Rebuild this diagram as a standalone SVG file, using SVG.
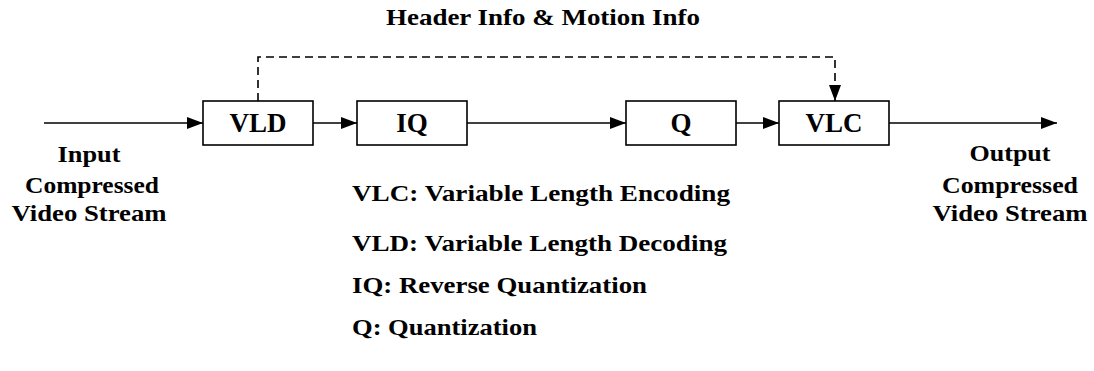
<svg xmlns="http://www.w3.org/2000/svg" width="1094" height="371" viewBox="0 0 1094 371">
<style>
rect{fill:#fff;stroke:#000;stroke-width:1.6}
.ln{fill:none;stroke:#000;stroke-width:1.6}
.dash{fill:none;stroke:#000;stroke-width:1.6;stroke-dasharray:8 5}
</style>
<defs>
<marker id="ah" viewBox="0 0 16 12" refX="16" refY="6" markerWidth="16" markerHeight="12" markerUnits="userSpaceOnUse" orient="auto">
<path d="M0,0 L16,6 L0,12 Z" fill="#000"/>
</marker>
</defs>
<text x="543" y="25" font-family="Liberation Serif" font-weight="bold" font-size="24" text-anchor="middle" textLength="314" lengthAdjust="spacingAndGlyphs">Header Info &amp; Motion Info</text>
<g id="connectors">
<line class="ln" x1="44" y1="123" x2="203" y2="123" marker-end="url(#ah)"/>
<line class="ln" x1="313" y1="123" x2="357" y2="123" marker-end="url(#ah)"/>
<line class="ln" x1="467" y1="123" x2="626" y2="123" marker-end="url(#ah)"/>
<line class="ln" x1="736" y1="123" x2="779" y2="123" marker-end="url(#ah)"/>
<line class="ln" x1="889" y1="123" x2="1057" y2="123" marker-end="url(#ah)"/>
<polyline class="dash" points="258,101 258,57 835,57 835,101" marker-end="url(#ah)"/>
</g>
<g font-family="Liberation Serif" font-weight="bold" font-size="27" text-anchor="middle">
<g id="VLD"><rect x="203" y="101" width="110" height="44"/><text x="258" y="132">VLD</text></g>
<g id="IQ"><rect x="357" y="101" width="110" height="44"/><text x="412" y="132">IQ</text></g>
<g id="Q"><rect x="626" y="101" width="110" height="44"/><text x="681" y="132">Q</text></g>
<g id="VLC"><rect x="779" y="101" width="110" height="44"/><text x="834" y="132">VLC</text></g>
</g>
<g font-family="Liberation Serif" font-weight="bold" font-size="24" text-anchor="middle">
<g id="input">
<text x="89" y="162" textLength="63" lengthAdjust="spacingAndGlyphs">Input</text>
<text x="92" y="193" textLength="134" lengthAdjust="spacingAndGlyphs">Compressed</text>
<text x="89" y="221" textLength="155" lengthAdjust="spacingAndGlyphs">Video Stream</text>
</g>
<g id="output">
<text x="1010" y="161" textLength="81" lengthAdjust="spacingAndGlyphs">Output</text>
<text x="1010" y="193" textLength="136" lengthAdjust="spacingAndGlyphs">Compressed</text>
<text x="1010" y="221" textLength="155" lengthAdjust="spacingAndGlyphs">Video Stream</text>
</g>
</g>
<g id="legend" font-family="Liberation Serif" font-weight="bold" font-size="24">
<text x="352" y="201" textLength="378" lengthAdjust="spacingAndGlyphs">VLC: Variable Length Encoding</text>
<text x="352" y="251" textLength="375" lengthAdjust="spacingAndGlyphs">VLD: Variable Length Decoding</text>
<text x="352" y="293" textLength="295" lengthAdjust="spacingAndGlyphs">IQ: Reverse Quantization</text>
<text x="352" y="335" textLength="185" lengthAdjust="spacingAndGlyphs">Q: Quantization</text>
</g>
</svg>
